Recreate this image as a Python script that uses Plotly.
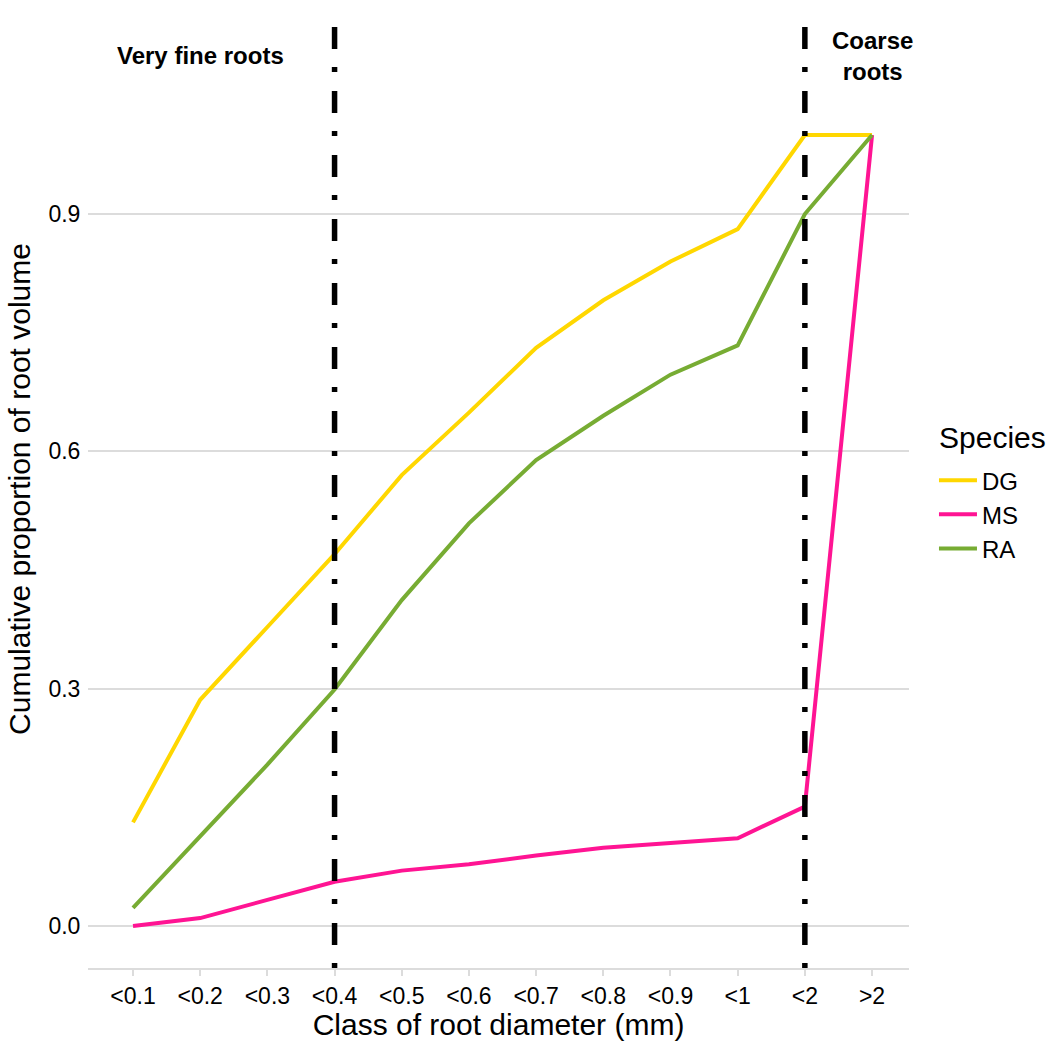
import plotly.graph_objects as go

categories = ["<0.1", "<0.2", "<0.3", "<0.4", "<0.5", "<0.6", "<0.7", "<0.8", "<0.9", "<1", "<2", ">2"]
species = ["DG", "MS", "RA"]
dg_values = [0.131, 0.286, 0.378, 0.470, 0.570, 0.649, 0.731, 0.791, 0.840, 0.881, 1.0, 1.0]
ms_values = [0.000, 0.010, 0.033, 0.056, 0.070, 0.078, 0.089, 0.099, 0.105, 0.111, 0.151, 1.0]
ra_values = [0.023, 0.114, 0.204, 0.299, 0.412, 0.509, 0.589, 0.645, 0.697, 0.734, 0.900, 1.0]
colors = {"DG": "#FFD700", "MS": "#FF1493", "RA": "#77AC33"}
y_ticks = [0.0, 0.3, 0.6, 0.9]
class_boundaries = ["<0.4", "<2"]
labels = [("Very fine roots", "<0.2", 1.1), ("Coarse<br>roots", ">2", 1.1)]
legend_title = "Species"

series = {"DG": dg_values, "MS": ms_values, "RA": ra_values}

FONT = "Liberation Sans, Arial, sans-serif"
fig = go.Figure()
for sp in species:
    fig.add_trace(go.Scatter(
        x=categories, y=series[sp], mode="lines", name=sp,
        line=dict(color=colors[sp], width=4), legendgroup=sp,
    ))

for b in class_boundaries:
    fig.add_shape(type="line", xref="x", yref="paper", x0=b, x1=b, y0=0, y1=1,
                  line=dict(color="black", width=5.5, dash="5px,18px,22px,19px"), layer="above")

for txt, xc, yv in labels:
    fig.add_annotation(x=xc, y=yv, xref="x", yref="y", text="<b>%s</b>" % txt, showarrow=False,
                       font=dict(family=FONT, size=24, color="black"))

fig.add_annotation(x=1.034, y=0.554, xref="paper", yref="paper", text=legend_title,
                   showarrow=False, xanchor="left", yanchor="middle",
                   font=dict(family=FONT, size=30, color="black"))

fig.update_layout(
    width=1046, height=1041, autosize=False,
    margin=dict(l=88, r=137, t=10, b=73),
    paper_bgcolor="white", plot_bgcolor="white",
    font=dict(family=FONT, color="black"),
    legend=dict(font=dict(size=24), xref="container", yref="container",
                x=0.8929, xanchor="left", y=0.56, yanchor="top", tracegroupgap=0,
                itemwidth=38, bgcolor="rgba(0,0,0,0)"),
    showlegend=True,
)
fig.update_xaxes(
    type="category", categoryorder="array", categoryarray=categories,
    range=[-0.67, 11.55], showgrid=False, zeroline=False,
    showline=True, linecolor="#dcdcdc", linewidth=2,
    ticks="outside", ticklen=6, tickwidth=2, tickcolor="#dcdcdc",
    tickfont=dict(size=23, color="black"),
    title=dict(text="Class of root diameter (mm)", font=dict(size=30), standoff=2),
)
fig.update_yaxes(
    range=[-0.0531, 1.158], tickvals=y_ticks, tickformat=".1f",
    showgrid=True, gridcolor="#dcdcdc", gridwidth=2, zeroline=False, showline=False,
    ticks="outside", ticklen=2, tickcolor="rgba(0,0,0,0)",
    tickfont=dict(size=23, color="black"),
    title=dict(text="Cumulative proportion of root volume", font=dict(size=30), standoff=8),
)

fig.write_html("out.html", config={"displayModeBar": False},
               post_script="document.body.style.margin='0';document.body.style.overflow='hidden';")
